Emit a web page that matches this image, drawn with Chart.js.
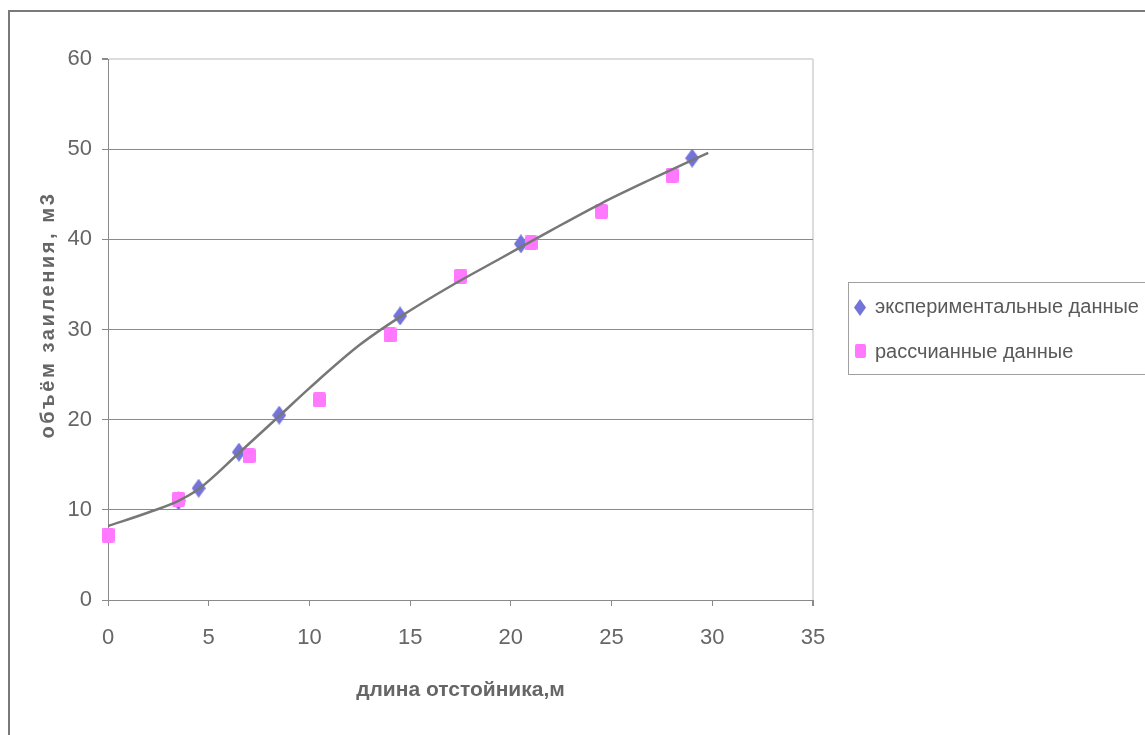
<!DOCTYPE html>
<html>
<head>
<meta charset="utf-8">
<script src="https://cdn.jsdelivr.net/npm/chart.js@4"></script>
<style>
  html, body { margin: 0; padding: 0; background: #fff; }
  canvas { display: block; }
</style>
</head>
<body>
<canvas id="c" width="1145" height="735"></canvas>
<script>
// Axis ticks
const xTicks = [0, 5, 10, 15, 20, 25, 30, 35];
const yTicks = [0, 10, 20, 30, 40, 50, 60];

// Experimental measurements
const expX = [3.5, 4.5, 6.5, 8.5, 14.5, 20.5, 29];
const expY = [11.0, 12.4, 16.4, 20.5, 31.5, 39.5, 49.0];

// Calculated values
const calcX = [0, 3.5, 7, 10.5, 14, 17.5, 21, 24.5, 28];
const calcY = [7.2, 11.2, 16.0, 22.2, 29.4, 35.9, 39.6, 43.1, 47.1];

// Trend curve through the data
const trendX = [0, 2, 3.5, 4.5, 6.5, 8.5, 10, 12.5, 14.5, 17, 19.5, 22, 24.5, 27, 29.8];
const trendY = [8.2, 9.7, 11.0, 12.3, 16.3, 20.4, 23.5, 28.3, 31.4, 34.8, 37.9, 41.0, 44.0, 46.7, 49.6];

const seriesNames = ['экспериментальные данные', 'рассчианные данные'];
const xTitle = 'длина отстойника,м';
const yTitle = 'объём заиления, м3';

const BLUE = '#7373da';
const PINK = '#ff78ff';
const AXIS = '#8a8a8a';
const TEXT = '#666666';
const SANS = '"Liberation Sans", Arial, sans-serif';

function diamondImg(w, h, color) {
  const c = document.createElement('canvas');
  c.width = w; c.height = h;
  const g = c.getContext('2d');
  g.fillStyle = color;
  g.beginPath();
  g.moveTo(w / 2, 0); g.lineTo(w, h / 2); g.lineTo(w / 2, h); g.lineTo(0, h / 2);
  g.closePath(); g.fill();
  return c;
}
function squareImg(w, h, color) {
  const c = document.createElement('canvas');
  c.width = w; c.height = h;
  const g = c.getContext('2d');
  g.fillStyle = color;
  g.beginPath();
  g.roundRect(0, 0, w, h, 2);
  g.fill();
  return c;
}
const diamond = diamondImg(14, 19, BLUE);
const square = squareImg(13, 15, PINK);

const pairs = (xs, ys) => xs.map((x, i) => ({ x, y: ys[i] }));

// Outer frame, axis titles and the boxed legend
const decor = {
  id: 'decor',
  afterDraw(chart) {
    const ctx = chart.ctx;
    const area = chart.chartArea;
    ctx.save();
    ctx.strokeStyle = '#7a7a7a';
    ctx.lineWidth = 2;
    ctx.strokeRect(9, 11, 1300, 900);

    ctx.fillStyle = TEXT;
    ctx.textAlign = 'center';
    ctx.textBaseline = 'middle';
    ctx.font = 'bold 21px ' + SANS;
    ctx.fillText(xTitle, (area.left + area.right) / 2, 690);

    ctx.save();
    ctx.translate(48, 315);
    ctx.rotate(-Math.PI / 2);
    ctx.font = 'bold 20px ' + SANS;
    ctx.letterSpacing = '2.6px';
    ctx.fillText(yTitle, 0, 0);
    ctx.restore();

    // legend
    ctx.strokeStyle = '#a0a0a0';
    ctx.lineWidth = 1;
    ctx.strokeRect(848.5, 282.5, 400, 92);
    ctx.drawImage(diamondImg(12, 17, BLUE), 854, 299);
    ctx.drawImage(squareImg(11, 14, PINK), 855, 344);
    ctx.fillStyle = '#595959';
    ctx.textAlign = 'left';
    ctx.font = '20px ' + SANS;
    ctx.fillText(seriesNames[0], 875, 307);
    ctx.fillText(seriesNames[1], 875, 352);
    ctx.restore();
  }
};

new Chart(document.getElementById('c'), {
  type: 'scatter',
  data: {
    datasets: [
      {
        type: 'line',
        label: 'trend',
        data: pairs(trendX, trendY),
        borderColor: '#777777',
        borderWidth: 2.5,
        pointRadius: 0,
        cubicInterpolationMode: 'monotone',
        fill: false,
        order: 0
      },
      {
        label: seriesNames[1],
        data: pairs(calcX, calcY),
        pointStyle: square,
        backgroundColor: PINK,
        clip: false,
        order: 1
      },
      {
        label: seriesNames[0],
        data: pairs(expX, expY),
        pointStyle: diamond,
        backgroundColor: BLUE,
        clip: false,
        order: 2
      }
    ]
  },
  options: {
    responsive: false,
    animation: false,
    devicePixelRatio: 1,
    layout: { padding: { left: 33, right: 332, top: 59, bottom: 0 } },
    plugins: { legend: { display: false }, tooltip: { enabled: false } },
    scales: {
      x: {
        type: 'linear',
        min: 0, max: 35,
        afterBuildTicks: s => { s.ticks = xTicks.map(v => ({ value: v })); },
        afterFit: s => { s.height = 135; },
        border: { color: AXIS, width: 1 },
        grid: {
          color: c => (c.tick && c.tick.value === 35) ? '#dcdcdc' : 'rgba(0,0,0,0)',
          lineWidth: c => (c.tick && c.tick.value === 35) ? 2 : 1,
          tickColor: AXIS,
          tickLength: 6,
          drawOnChartArea: true
        },
        ticks: {
          color: TEXT,
          font: { family: SANS, size: 22 },
          padding: 19,
          maxRotation: 0,
          autoSkip: false
        }
      },
      y: {
        type: 'linear',
        min: 0, max: 60,
        afterBuildTicks: s => { s.ticks = yTicks.map(v => ({ value: v })); },
        afterFit: s => { s.width = 75; },
        border: { color: AXIS, width: 1 },
        grid: {
          color: c => (c.tick && c.tick.value === 60) ? '#dcdcdc' : AXIS,
          lineWidth: c => (c.tick && c.tick.value === 60) ? 2 : 1,
          tickColor: AXIS,
          tickLength: 6
        },
        ticks: {
          color: TEXT,
          font: { family: SANS, size: 22 },
          padding: 10,
          autoSkip: false
        }
      }
    }
  },
  plugins: [decor]
});
</script>
</body>
</html>
